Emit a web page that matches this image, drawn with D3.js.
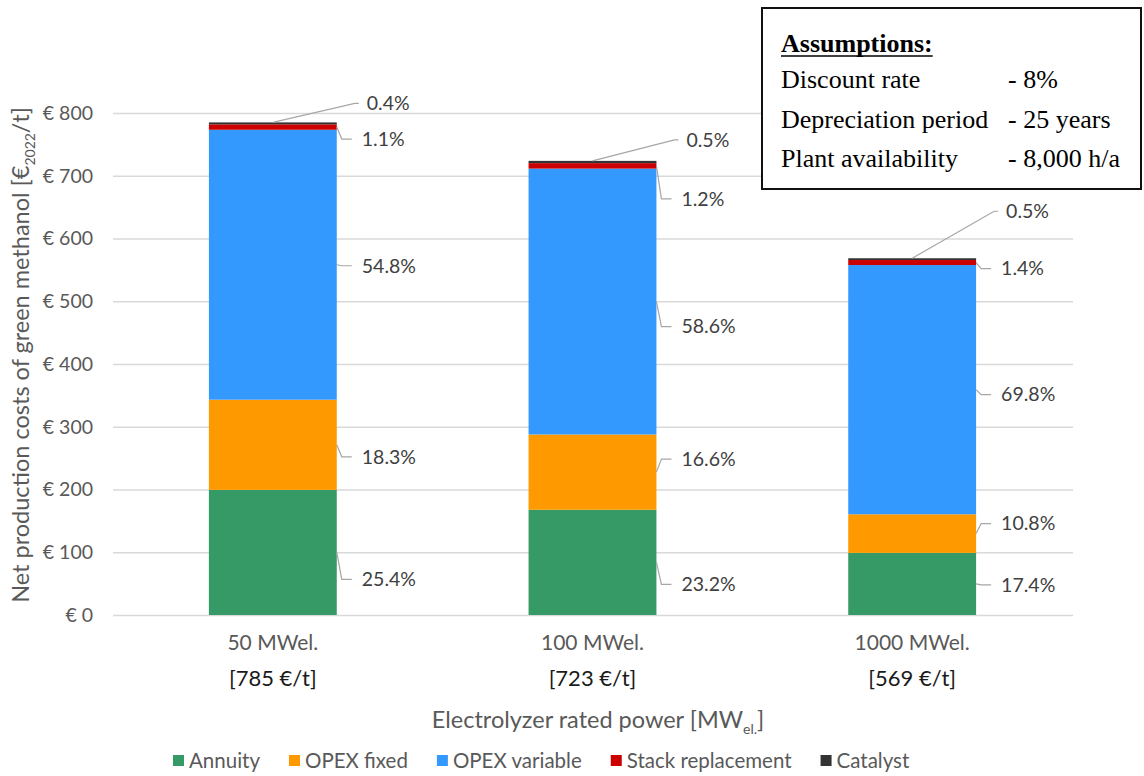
<!DOCTYPE html>
<html>
<head>
<meta charset="utf-8">
<script src="https://cdn.jsdelivr.net/npm/d3@7"></script>
<style>
  html, body { margin: 0; padding: 0; background: #fff; }
  svg { display: block; }
</style>
</head>
<body>
<svg id="chart" width="1144" height="776"></svg>
<script>
// ---------- data ----------
const categories = ["50 MWel.", "100 MWel.", "1000 MWel."];
const totalLabels = ["[785 €/t]", "[723 €/t]", "[569 €/t]"];
const seriesNames = ["Annuity", "OPEX fixed", "OPEX variable", "Stack replacement", "Catalyst"];
const annuity = [199.4, 167.7, 99.0];
const opexFixed = [143.7, 120.0, 61.5];
const opexVariable = [430.2, 423.7, 397.2];
const stackReplacement = [8.6, 8.7, 8.0];
const catalyst = [3.1, 3.6, 2.8];
const annuityPct = ["25.4%", "23.2%", "17.4%"];
const opexFixedPct = ["18.3%", "16.6%", "10.8%"];
const opexVariablePct = ["54.8%", "58.6%", "69.8%"];
const stackReplacementPct = ["1.1%", "1.2%", "1.4%"];
const catalystPct = ["0.4%", "0.5%", "0.5%"];
const yTicks = [0, 100, 200, 300, 400, 500, 600, 700, 800];
const assumptions = [["Discount rate", "- 8%"], ["Depreciation period", "- 25 years"], ["Plant availability", "- 8,000 h/a"]];

// ---------- layout / style ----------
const colors = ["#359a65", "#ff9900", "#3399ff", "#cc0000", "#333333"];
// callout vertical offsets (px) from segment middle, per series per category
const calloutDy = [[27, 22, 1], [12, -13, -10], [1, 25, 5], [12, 33, 6], [-19, -21, -47]];
const FONT = "Lato, 'Open Sans', sans-serif";

const svg = d3.select("#chart");
const x = d3.scaleBand().domain(categories).range([113, 1072]).paddingInner(0.6).paddingOuter(0.3);
const y = d3.scaleLinear().domain([0, 800]).range([615, 113]);

const seriesValues = [annuity, opexFixed, opexVariable, stackReplacement, catalyst];
const seriesPct = [annuityPct, opexFixedPct, opexVariablePct, stackReplacementPct, catalystPct];
const table = categories.map((c, i) => {
  const row = { category: c };
  seriesNames.forEach((s, k) => row[s] = seriesValues[k][i]);
  return row;
});
const stacked = d3.stack().keys(seriesNames)(table);

// gridlines
const yAxis = d3.axisLeft(y).tickValues(yTicks).tickSize(-(1073 - 113)).tickFormat(d => "€ " + d).tickPadding(20);
const gAxis = svg.append("g").attr("transform", "translate(113,0)").call(yAxis);
gAxis.select(".domain").remove();
gAxis.selectAll(".tick line").attr("stroke", "#d9d9d9").attr("stroke-width", 1.3);
gAxis.selectAll(".tick text").attr("fill", "#595959").style("font-family", FONT).style("font-size", "19.5px");

// bars
const gBars = svg.append("g");
stacked.forEach((layer, k) => {
  gBars.selectAll(null).data(layer).enter().append("rect")
    .attr("x", d => x(d.data.category))
    .attr("width", x.bandwidth())
    .attr("y", d => y(d[1]))
    .attr("height", d => y(d[0]) - y(d[1]))
    .attr("fill", colors[k]);
});

// callouts
const gLab = svg.append("g").style("font-family", FONT).style("font-size", "19.5px").attr("fill", "#404040");
stacked.forEach((layer, k) => {
  layer.forEach((d, i) => {
    const bx = x(d.data.category), bw = x.bandwidth();
    const right = bx + bw;
    if (k < 4) {
      const mid = y((d[0] + d[1]) / 2);
      const ly = mid + calloutDy[k][i];
      gLab.append("path")
        .attr("d", `M${right},${mid}L${right + 5},${ly}L${right + 15},${ly}`)
        .attr("fill", "none").attr("stroke", "#a6a6a6").attr("stroke-width", 1.2);
      gLab.append("text").attr("x", right + 25).attr("y", ly).attr("dy", "0.35em").text(seriesPct[k][i]);
    } else {
      const top = y(d[1]);
      const ly = top + calloutDy[k][i];
      gLab.append("path")
        .attr("d", `M${bx + bw / 2},${top}L${right + 18},${ly}L${right + 22},${ly}`)
        .attr("fill", "none").attr("stroke", "#a6a6a6").attr("stroke-width", 1.2);
      gLab.append("text").attr("x", right + 30).attr("y", ly).attr("dy", "0.35em").text(seriesPct[k][i]);
    }
  });
});

// category labels
const gX = svg.append("g").style("font-family", FONT);
categories.forEach((c, i) => {
  const cx = x(c) + x.bandwidth() / 2;
  gX.append("text").attr("x", cx).attr("y", 650).attr("text-anchor", "middle")
    .attr("fill", "#595959").style("font-size", "21px").text(c);
  gX.append("text").attr("x", cx).attr("y", 686).attr("text-anchor", "middle")
    .attr("fill", "#1a1a1a").style("font-size", "22px").text(totalLabels[i]);
});

// x title
const xt = svg.append("text").attr("x", 598).attr("y", 728).attr("text-anchor", "middle")
  .attr("fill", "#595959").style("font-family", FONT).style("font-size", "23.5px");
xt.append("tspan").text("Electrolyzer rated power [MW");
xt.append("tspan").attr("dy", 6).style("font-size", "14px").text("el.");
xt.append("tspan").attr("dy", -6).text("]");

// y title
const yt = svg.append("text").attr("transform", "translate(29,355) rotate(-90)").attr("text-anchor", "middle")
  .attr("fill", "#595959").style("font-family", FONT).style("font-size", "23.5px");
yt.append("tspan").text("Net production costs of green methanol [€");
yt.append("tspan").attr("dy", 6).style("font-size", "14px").text("2022");
yt.append("tspan").attr("dy", -6).text("/t]");

// legend
const gLeg = svg.append("g").style("font-family", FONT).style("font-size", "20.5px");
let lx = 173;
seriesNames.forEach((s, k) => {
  gLeg.append("rect").attr("x", lx).attr("y", 755).attr("width", 11).attr("height", 11).attr("fill", colors[k]);
  const t = gLeg.append("text").attr("x", lx + 16).attr("y", 768).attr("fill", "#595959").text(s);
  lx += 16 + t.node().getComputedTextLength() + 29;
});

// assumptions box
const gBox = svg.append("g").style("font-family", "'Liberation Serif', 'Times New Roman', serif").attr("fill", "#000");
gBox.append("rect").attr("x", 762).attr("y", 8).attr("width", 379).attr("height", 181)
  .attr("fill", "#fff").attr("stroke", "#111").attr("stroke-width", 2);
const head = gBox.append("text").attr("x", 781).attr("y", 52).style("font-size", "26px").style("font-weight", "bold").text("Assumptions:");
const hw = head.node().getComputedTextLength();
gBox.append("line").attr("x1", 781).attr("x2", 781 + hw).attr("y1", 56).attr("y2", 56).attr("stroke", "#000").attr("stroke-width", 1.6);
assumptions.forEach((a, i) => {
  const by = 88 + i * 39.5;
  gBox.append("text").attr("x", 781).attr("y", by).style("font-size", "26px").text(a[0]);
  gBox.append("text").attr("x", 1008).attr("y", by).style("font-size", "26px").text(a[1]);
});
</script>
</body>
</html>
